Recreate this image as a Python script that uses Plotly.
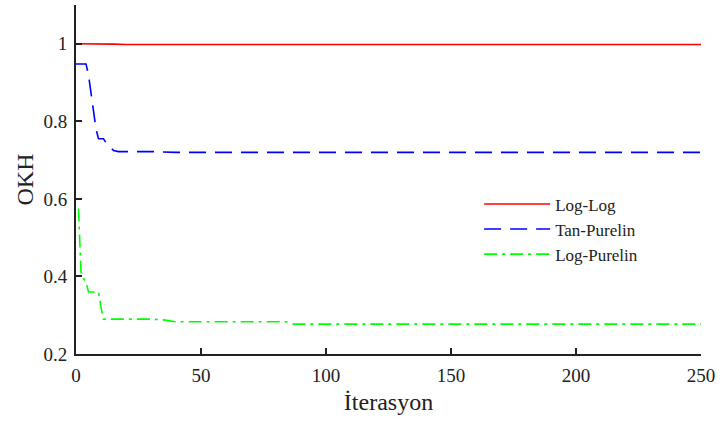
import plotly.graph_objects as go

# Breakpoints (iteration, OKH)
loglog_x = [0, 5, 10, 15, 20, 250]
loglog_y = [1.0, 1.0, 1.0, 0.999, 0.998, 0.998]

tan_x = [0, 4, 5, 6, 8, 9, 11, 12, 15, 17, 30, 40, 250]
tan_y = [0.948, 0.948, 0.92, 0.87, 0.78, 0.755, 0.755, 0.745, 0.725, 0.722, 0.722, 0.72, 0.72]

logp_x = [1, 2, 2.5, 4, 5, 9, 10, 11, 30, 35, 40, 84, 87, 250]
logp_y = [0.575, 0.41, 0.40, 0.385, 0.36, 0.36, 0.32, 0.29, 0.29, 0.288, 0.283, 0.283, 0.277, 0.277]

x_ticks = [0, 50, 100, 150, 200, 250]
y_ticks = [0.2, 0.4, 0.6, 0.8, 1.0]
y_tick_text = ["0.2", "0.4", "0.6", "0.8", "1"]

FONT = "Liberation Serif, serif"

fig = go.Figure()
fig.add_trace(go.Scatter(x=loglog_x, y=loglog_y, mode="lines", name="Log-Log",
                         line=dict(color="#FF0000", width=1.6)))
fig.add_trace(go.Scatter(x=tan_x, y=tan_y, mode="lines", name="Tan-Purelin",
                         line=dict(color="#0000FF", width=1.6, dash="17px,9px")))
fig.add_trace(go.Scatter(x=logp_x, y=logp_y, mode="lines", name="Log-Purelin",
                         line=dict(color="#00FF00", width=1.6, dash="13px,5px,3px,5px")))

fig.update_layout(
    width=720, height=423,
    margin=dict(l=76, r=15, t=5, b=69),
    paper_bgcolor="white", plot_bgcolor="white",
    font=dict(family=FONT, color="#222222", size=19),
    showlegend=True,
    legend=dict(x=0.645, y=0.357, xanchor="left", yanchor="middle",
                bgcolor="rgba(0,0,0,0)", font=dict(family=FONT, size=17, color="#222222"),
                tracegroupgap=0, itemwidth=66),
    xaxis=dict(range=[0, 250], tickvals=x_ticks, ticks="inside", ticklen=6, tickwidth=1.5,
               tickcolor="#222222", showline=True, linecolor="#222222", linewidth=2,
               showgrid=False, zeroline=False, mirror=False, ticklabelstandoff=3,
               title=dict(text="İterasyon", font=dict(family=FONT, size=24), standoff=8),
               tickfont=dict(family=FONT, size=19)),
    yaxis=dict(range=[0.2, 1.1], tickvals=y_ticks, ticktext=y_tick_text, ticks="inside",
               ticklen=6, tickwidth=1.5, tickcolor="#222222", showline=True,
               linecolor="#222222", linewidth=2, showgrid=False, zeroline=False, mirror=False,
               ticklabelstandoff=3,
               title=dict(text="OKH", font=dict(family=FONT, size=24), standoff=3),
               tickfont=dict(family=FONT, size=19)),
)

fig.write_html("out.html", config={"displayModeBar": False},
               post_script="document.body.style.margin='0';")
